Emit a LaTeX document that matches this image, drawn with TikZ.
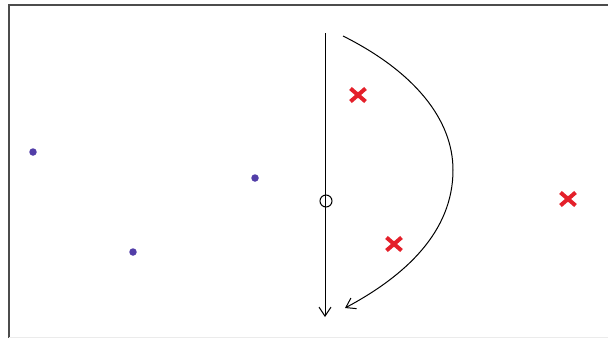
\documentclass[tikz,border=0pt]{standalone}
\usepackage{amsmath,amssymb}
\usetikzlibrary{positioning,calc,arrows.meta,shapes.misc}

\definecolor{xred}{RGB}{228,32,42}
\definecolor{dotblue}{RGB}{82,62,168}
\tikzset{
	pole/.style={cross out,draw=xred,line width=4pt,minimum width=11pt,minimum height=9pt,inner sep=0pt},
	zero/.style={circle,fill=dotblue,minimum size=7.5pt,inner sep=0pt},
	barb/.style={-{Straight Barb[length=9pt,width=12pt]}}
}

\begin{document}
\begin{tikzpicture}[x=1pt,y=-1pt,line width=1pt]
		\useasboundingbox (0,0) rectangle (608,338);
		\draw[line width=2.2pt,black!70] (9,338) -- (9,5) -- (608,5);
		\draw[line width=1pt,black!8] (9,337) -- (608,337);
		
		% contour
		\coordinate (top) at (325,33);
		\coordinate (bot) at (325,317);
		\draw[barb] (top) -- (bot);
		\node[draw,circle,minimum size=12pt,inner sep=0pt] (orig) at (326,201) {};
		\coordinate (cs) at (343,36);
		\coordinate (cm) at (453,170);
		\coordinate (ce) at (345,308);
		\draw[barb] (cs) .. controls (415,72) and (453,120) .. (cm)
			.. controls (453,232) and (405,276) .. (ce);
		
		% poles
		\node[pole] (p1) at (358,95) {};
		\node[pole] (p2) at (394,244) {};
		\node[pole] (p3) at (568,199) {};
		
		% zeros
		\node[zero] (z1) at (33,152) {};
		\node[zero] (z2) at (133,252) {};
		\node[zero] (z3) at (255,178) {};
	\end{tikzpicture}
\end{document}
